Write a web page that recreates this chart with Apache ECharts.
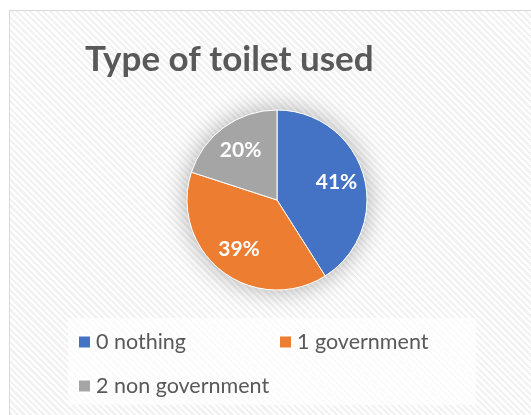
<!DOCTYPE html>
<html>
<head>
<meta charset="utf-8">
<script src="https://cdn.jsdelivr.net/npm/echarts@6/dist/echarts.min.js"></script>
<style>
  html, body { margin: 0; padding: 0; width: 531px; height: 415px; overflow: hidden; background: #ffffff; }
  #frame {
    position: absolute; left: 9px; top: 10px; width: 560px; height: 440px;
    border: 1px solid #d9d9d9;
    background: repeating-linear-gradient(45deg, #ffffff 0px, #ffffff 2.3px, #f2f2f2 2.3px, #f2f2f2 4.6px);
  }
  #legendBox {
    position: absolute; left: 68px; top: 318px; width: 408px; height: 87px;
    background: rgba(255,255,255,0.65);
  }
  #chart { position: absolute; left: 0; top: 0; width: 531px; height: 415px; }
</style>
</head>
<body>
<div id="frame"></div>
<div id="legendBox"></div>
<div id="chart"></div>
<script>
// Share of households by type of toilet used
const categories = ['0 nothing', '1 government', '2 non government'];
const shares = [41, 39, 20];
const colors = ['#4472C4', '#ED7D31', '#A5A5A5'];

const chart = echarts.init(document.getElementById('chart'), null, { renderer: 'canvas' });

const sliceData = categories.map((name, i) => ({ name, value: shares[i] }));
const center = [277, 200];

chart.setOption({
  backgroundColor: 'transparent',
  animation: false,
  color: colors,
  title: {
    text: 'Type of toilet used',
    left: 80,
    top: 37,
    textStyle: { fontFamily: 'Lato', fontWeight: 'bold', fontSize: 35, color: '#595959' }
  },
  legend: {
    data: categories,
    left: 77,
    top: 331,
    width: 400,
    padding: 0,
    orient: 'horizontal',
    itemWidth: 13,
    itemHeight: 13,
    itemGap: 22,
    icon: 'rect',
    textStyle: { fontFamily: 'Lato', fontSize: 21.5, color: '#595959', width: 160, lineHeight: 20 }
  },
  series: [
    {
      // soft halo under the pie
      type: 'pie',
      silent: true,
      center: center,
      radius: [0, 90],
      label: { show: false },
      legendHoverLink: false,
      data: [{ name: '', value: 1, itemStyle: { color: '#ffffff', shadowBlur: 26, shadowColor: 'rgba(0,0,0,0.32)' } }]
    },
    {
      type: 'pie',
      name: 'Type of toilet used',
      center: center,
      radius: [0, 90],
      startAngle: 90,
      clockwise: true,
      label: { show: false },
      itemStyle: { borderColor: '#ffffff', borderWidth: 1 },
      data: sliceData
    },
    {
      // percentage labels placed further out than the default inside position
      type: 'pie',
      silent: true,
      center: center,
      radius: [28, 90],
      startAngle: 90,
      clockwise: true,
      legendHoverLink: false,
      itemStyle: { color: 'rgba(0,0,0,0)' },
      label: {
        show: true,
        position: 'inside',
        formatter: p => p.value + '%',
        fontFamily: 'Lato',
        fontWeight: 'bold',
        fontSize: 21,
        color: '#ffffff'
      },
      data: sliceData
    }
  ]
});
</script>
</body>
</html>
